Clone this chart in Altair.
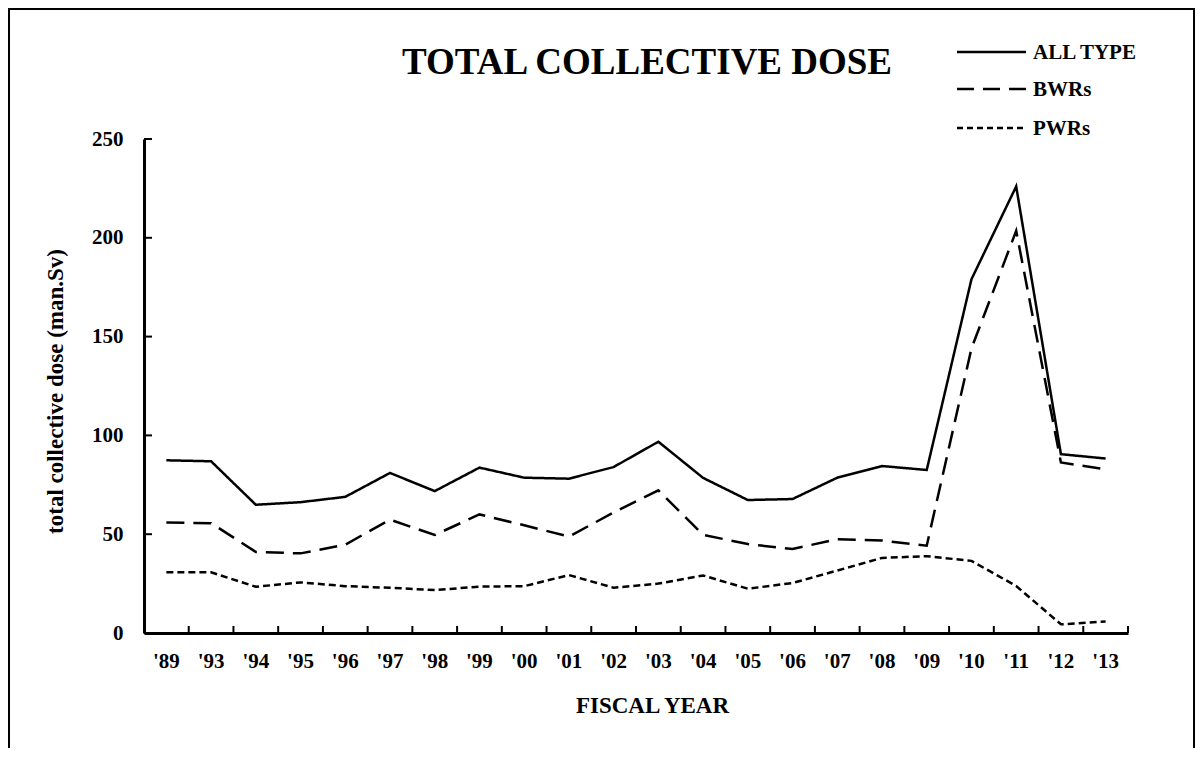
import altair as alt
import pandas as pd

years = ["'89", "'93", "'94", "'95", "'96", "'97", "'98", "'99", "'00", "'01", "'02",
         "'03", "'04", "'05", "'06", "'07", "'08", "'09", "'10", "'11", "'12", "'13"]
all_type = [87.4, 86.9, 64.9, 66.2, 68.9, 81.0, 71.8, 83.7, 78.6, 78.1, 84.0,
            96.8, 78.5, 67.3, 67.8, 78.6, 84.5, 82.5, 179.0, 226.0, 90.5, 88.3]
bwrs = [55.9, 55.6, 41.0, 40.3, 44.7, 57.4, 49.6, 60.0, 54.5, 48.8, 61.0,
        72.2, 49.7, 45.0, 42.5, 47.5, 46.8, 44.2, 144.0, 203.5, 86.3, 82.8]
pwrs = [30.7, 30.7, 23.4, 25.6, 23.7, 22.9, 21.7, 23.5, 23.7, 29.3, 22.9,
        25.0, 29.1, 22.4, 25.3, 31.6, 38.0, 38.9, 36.5, 23.8, 4.4, 5.8]
series_names = ["ALL TYPE", "BWRs", "PWRs"]
y_ticks = [0, 50, 100, 150, 200, 250]
chart_title = "TOTAL COLLECTIVE DOSE"
x_title = "FISCAL YEAR"
y_title = "total collective dose (man.Sv)"

FONT = "Liberation Serif"
W, H = 984, 494
dashes = {"ALL TYPE": [1, 0], "BWRs": [18, 9], "PWRs": [7, 4]}
legend_dashes = {"ALL TYPE": [1, 0], "BWRs": [17, 9], "PWRs": [6, 4]}

rows = []
for name, vals in zip(series_names, [all_type, bwrs, pwrs]):
    for y, v in zip(years, vals):
        rows.append({"year": y, "value": v, "series": name})
df = pd.DataFrame(rows)

xscale = alt.Scale(type="band", domain=years, paddingInner=0, paddingOuter=0)
yscale = alt.Scale(domain=[0, 250], nice=False, zero=True)

layers = []
for i, name in enumerate(series_names):
    sub = df[df.series == name]
    line = alt.Chart(sub).mark_line(
        color="black", strokeWidth=2.5, strokeDash=dashes[name], strokeCap="butt"
    ).encode(
        x=alt.X("year:N", bandPosition=0.5, scale=xscale,
                axis=alt.Axis(title=x_title, labelAngle=0, ticks=False, grid=False,
                              labelFont=FONT, labelFontSize=21, labelFontWeight="bold",
                              labelColor="black", labelPadding=17, labelBaseline="top",
                              domainColor="black", domainWidth=3,
                              titleFont=FONT, titleFontSize=23, titleFontWeight="bold",
                              titleColor="black", titleX=508, titleY=79,
                              titleAlign="center", titleBaseline="alphabetic")),
        y=alt.Y("value:Q", scale=yscale,
                axis=alt.Axis(title=y_title, values=y_ticks, ticks=False, grid=False,
                              labelFont=FONT, labelFontSize=21, labelFontWeight="bold",
                              labelColor="black", labelPadding=21,
                              domainColor="black", domainWidth=3,
                              titleFont=FONT, titleFontSize=23, titleFontWeight="bold",
                              titleColor="black", titleAngle=270, titleX=-82, titleY=252,
                              titleAlign="center", titleBaseline="alphabetic")),
    )
    layers.append(line)

# inward x ticks at category boundaries
xt = alt.Chart(pd.DataFrame({"year": years})).mark_rule(color="black", strokeWidth=2).encode(
    x=alt.X("year:N", bandPosition=1, scale=xscale),
    y=alt.value(H), y2=alt.value(H - 7),
)
# inward y ticks
yt = alt.Chart(pd.DataFrame({"v": y_ticks})).mark_rule(color="black", strokeWidth=2).encode(
    y=alt.Y("v:Q", scale=yscale), x=alt.value(0), x2=alt.value(8),
)
layers += [xt, yt]

one = alt.Data(values=[{}])
title_layer = alt.Chart(one).mark_text(
    text=chart_title, font=FONT, fontSize=37, fontWeight="bold", color="black",
    align="center", baseline="alphabetic"
).encode(x=alt.value(503), y=alt.value(-65))
layers.append(title_layer)

legend_y = [-87, -50, -11]
for i, name in enumerate(series_names):
    lr = alt.Chart(one).mark_rule(color="black", strokeWidth=2.5,
                                  strokeDash=legend_dashes[name], strokeCap="butt").encode(
        x=alt.value(813), x2=alt.value(882), y=alt.value(legend_y[i]))
    lt = alt.Chart(one).mark_text(text=name, font=FONT, fontSize=21, fontWeight="bold",
                                  color="black", align="left", baseline="middle").encode(
        x=alt.value(889), y=alt.value(legend_y[i] + 1))
    layers += [lr, lt]

frame = alt.Chart(one).mark_rect(fill=None, stroke="black", strokeWidth=2).encode(
    x=alt.value(-135), x2=alt.value(1050), y=alt.value(-130), y2=alt.value(700))
layers.append(frame)

chart = alt.layer(*layers).properties(
    width=W, height=H,
    padding={"left": 136, "top": 131, "right": 67, "bottom": 115},
    autosize=alt.AutoSizeParams(type="none"),
    background="white",
).configure_view(stroke=None)

chart.save("out.html", embed_options={"renderer": "svg", "actions": False})
